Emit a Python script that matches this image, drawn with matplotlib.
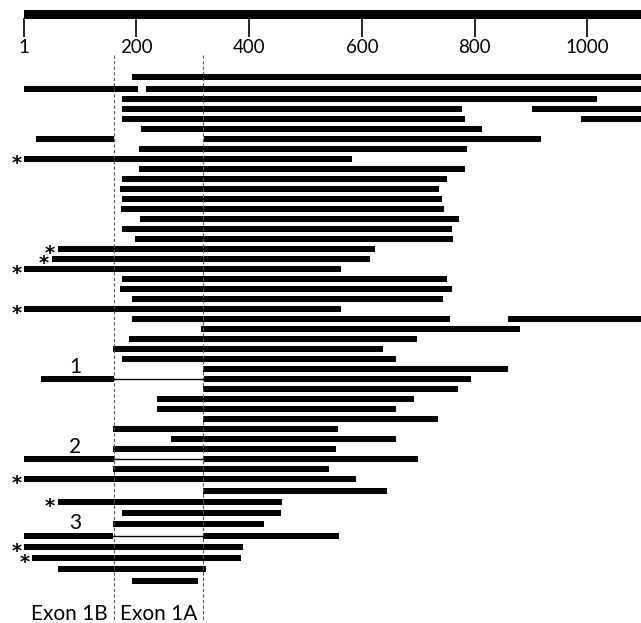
import matplotlib.pyplot as plt

# segments of each clone: row index, start and end (nt)
seg_row = [0, 1, 1, 2, 3, 3, 4, 4, 5, 6, 6, 7, 8, 9, 10, 11, 12, 13, 14, 15,
           16, 17, 18, 19, 20, 21, 22, 23, 24, 24, 25, 26, 27, 28, 29, 30, 30,
           31, 32, 33, 34, 35, 36, 37, 38, 38, 39, 40, 41, 42, 43, 44, 45, 45,
           46, 47, 48, 49]
seg_start = [192, 1, 217, 174, 174, 901, 174, 988, 208, 22, 320, 204, 1, 204,
             174, 170, 174, 173, 206, 174, 197, 61, 50, 1, 174, 170, 192, 1,
             192, 859, 315, 186, 159, 174, 318, 30, 320, 318, 237, 237, 318,
             159, 261, 159, 1, 320, 159, 1, 318, 61, 174, 159, 1, 318, 1, 15,
             61, 192]
seg_end = [1150, 203, 1150, 1017, 777, 1150, 783, 1150, 813, 161, 917, 786,
           582, 783, 751, 737, 742, 746, 772, 759, 762, 624, 614, 562, 751,
           759, 744, 562, 756, 1150, 881, 697, 638, 661, 859, 161, 793, 771,
           692, 661, 735, 558, 661, 554, 161, 700, 542, 589, 644, 458, 456,
           426, 159, 560, 389, 386, 323, 310]

starred = [8, 17, 18, 19, 23, 40, 42, 46, 47]
spliced = [30, 38, 45]
spliced_labels = ['1', '2', '3']

exon_names = ['Exon 1B', 'Exon 1A']
exon_bounds = [1, 161, 318]
scale_ticks = [1, 200, 400, 600, 800, 1000]

FONT = ['Lato', 'DejaVu Sans']


def lane(i):
    # the last rows are spread a little wider in the original
    if i <= 40:
        return i - 0.25 if i == 0 else i
    return 40 + (i - 40) * 1.125


fig = plt.figure(figsize=(6.41, 6.23), dpi=100)
ax = fig.add_axes([0, 0, 1, 1])
ax.set_xlim(-42, 1095)
ax.set_ylim(54.37, -7.93)
ax.axis('off')

# scale bar
ax.barh(-6.48, 1150 - 1, left=1, height=0.95, color='black')
ax.vlines(scale_ticks, -6.1, -4.2, color='black', lw=1.2)
for t in scale_ticks:
    ax.text(t, -3.2, str(t), ha='center', va='center', fontsize=13.5, family=FONT)

# exon borders
ax.vlines(exon_bounds[1:], -2.4, 54.1, color='#555555', lw=0.8,
          linestyles=(0, (3, 2)))

# clones
ys = [lane(r) for r in seg_row]
widths = [e - s for s, e in zip(seg_start, seg_end)]
ax.barh(ys, widths, left=seg_start, height=0.6, color='black')

for r in starred:
    s = min(st for rr, st in zip(seg_row, seg_start) if rr == r)
    ax.text(s - 14, lane(r) + 0.45, '*', ha='center', va='center',
            fontsize=14, fontweight='bold', family=['DejaVu Sans'])

for r, lab in zip(spliced, spliced_labels):
    segs = sorted((st, en) for rr, st, en in zip(seg_row, seg_start, seg_end) if rr == r)
    ax.plot([segs[0][1], segs[1][0]], [lane(r), lane(r)], color='black', lw=1)
    ax.text(92, lane(r) - 1.25, lab, ha='center', va='center',
            fontsize=15, family=FONT)

for k, name in enumerate(exon_names):
    mid = (exon_bounds[k] + exon_bounds[k + 1]) / 2
    ax.text(mid, 53.5, name, ha='center', va='center', fontsize=15, family=FONT)

plt.savefig('out.png')
